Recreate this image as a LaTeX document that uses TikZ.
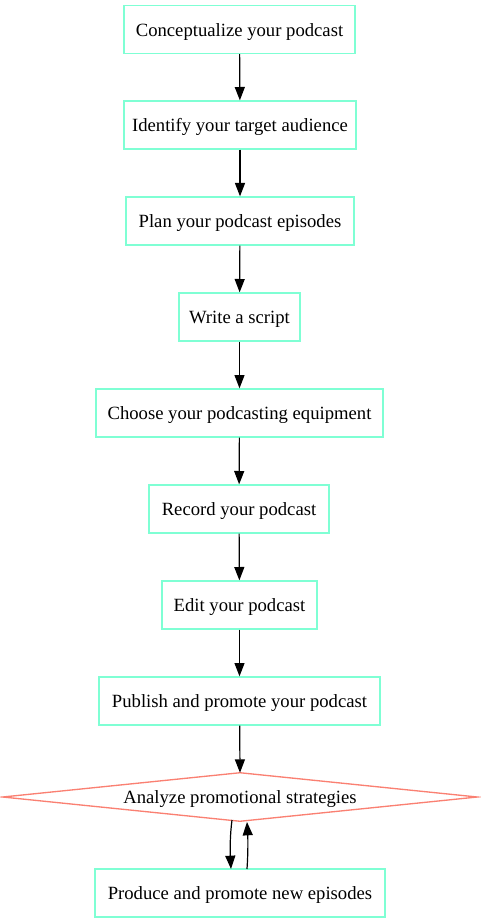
\documentclass[tikz,border=0pt]{standalone}
\usepackage{fontspec}
\setmainfont{Liberation Serif}
\usetikzlibrary{arrows.meta}
\definecolor{boxc}{RGB}{127,255,212}
\definecolor{diac}{RGB}{250,128,114}
\begin{document}
\begin{tikzpicture}[x=0.75pt,y=-0.75pt,
  txt/.style={inner sep=0pt,minimum height=36pt,text height=11pt,text depth=1pt,
    font=\fontsize{14pt}{16pt}\selectfont},
  stepbox/.style={txt,draw=boxc,line width=1pt},
  arr/.style={draw=black,line width=0.9pt,-{Triangle[length=10pt,width=7.5pt]}}]
\useasboundingbox (0,0) rectangle (480,923);
\node[stepbox,minimum width=173.25pt] (n1) at (239.5,29.5) {Conceptualize your podcast};
\node[stepbox,minimum width=174pt] (n2) at (240,125) {Identify your target audience};
\node[stepbox,minimum width=171pt] (n3) at (240,221) {Plan your podcast episodes};
\node[stepbox,minimum width=90.75pt] (n4) at (239.5,317) {Write a script};
\node[stepbox,minimum width=215.25pt] (n5) at (239.5,413) {Choose your podcasting equipment};
\node[stepbox,minimum width=135pt] (n6) at (239,509) {Record your podcast};
\node[stepbox,minimum width=116.25pt] (n7) at (239.5,605) {Edit your podcast};
\node[stepbox,minimum width=210.75pt] (n8) at (239.5,701) {Publish and promote your podcast};
\node[txt,minimum width=355.5pt] (n9) at (240,797) {Analyze promotional strategies};
\draw[diac,line width=1pt] (n9.west) -- (n9.north) -- (n9.east) -- (n9.south) -- cycle;
\node[stepbox,minimum width=217.5pt] (n10) at (240,893) {Produce and promote new episodes};
\draw[arr] (n1) -- (n2);
\draw[arr] (n2) -- (n3);
\draw[arr] (n3) -- (n4);
\draw[arr] (n4) -- (n5);
\draw[arr] (n5) -- (n6);
\draw[arr] (n6) -- (n7);
\draw[arr] (n7) -- (n8);
\draw[arr] (n8) -- (n9.north);
\coordinate (d1) at (232,820);
\coordinate (p1) at (231,869);
\coordinate (p2) at (247,869);
\coordinate (d2) at (247,822);
\draw[arr] (d1) .. controls (230,835) and (230,850) .. (p1);
\draw[arr] (p2) .. controls (248,855) and (248,840) .. (d2);
\end{tikzpicture}
\end{document}
